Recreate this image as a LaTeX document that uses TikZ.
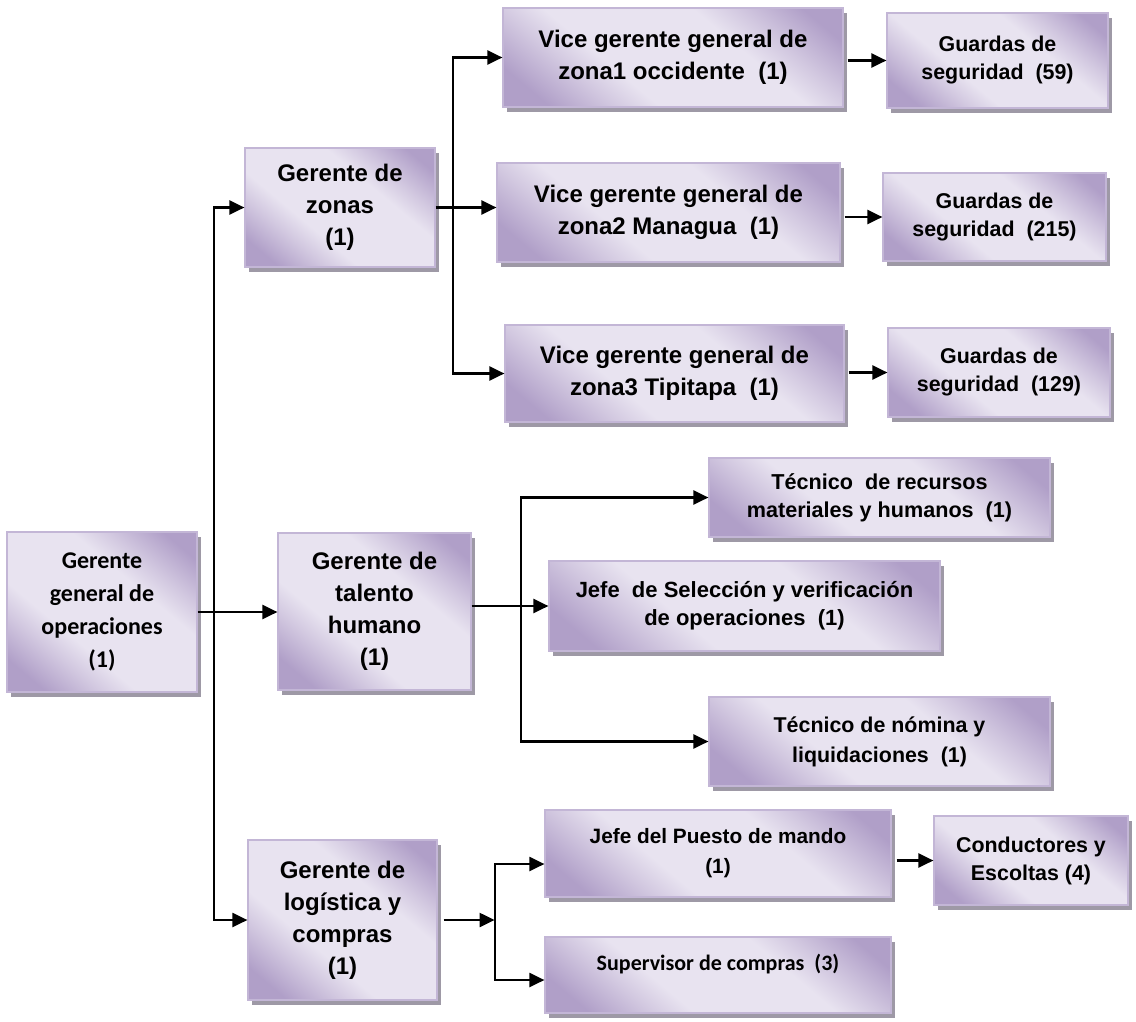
\documentclass[tikz,border=0pt]{standalone}
\usepackage{fontspec}
\setmainfont{Liberation Sans}
\newfontfamily\calfont{Carlito}
\usetikzlibrary{arrows.meta,shadows}
\definecolor{boxdark}{HTML}{B09FC8}
\definecolor{boxmid}{HTML}{D2C8E0}
\definecolor{boxlight}{HTML}{E8E3F0}
\definecolor{boxline}{HTML}{C3B6D6}
\definecolor{shgray}{HTML}{9E99A6}
\pgfdeclareverticalshading{boxshade}{100bp}{color(0bp)=(boxdark); color(22bp)=(boxdark); color(32bp)=(boxmid); color(39bp)=(boxlight); color(62bp)=(boxlight); color(69bp)=(boxmid); color(79bp)=(boxdark); color(100bp)=(boxdark)}
\begin{document}
\begin{tikzpicture}[x=1pt,y=-1pt,
  box/.style={rectangle, draw=boxline, line width=1.2pt, inner sep=0pt, align=center,
    shade, shading=boxshade, shading angle=-40,
    drop shadow={shadow xshift=4pt, shadow yshift=-5pt, fill=shgray, opacity=1},
    text=black, font=\bfseries},
  bw/.style 2 args={minimum width=#1pt, minimum height=#2pt},
  arr/.style={draw=black, line width=2.2pt, -{Triangle[length=15pt,width=14pt]}},
  fA/.style={font=\bfseries\fontsize{24}{32}\selectfont},
  fB/.style={font=\bfseries\fontsize{21.4}{28}\selectfont},
  fC/.style={font=\calfont\bfseries\fontsize{24}{33}\selectfont}
]
\useasboundingbox (0,0) rectangle (1136,1021);

% level 1
\node[box,bw={190}{160},fC] (ggo) at (102,612) {Gerente\\general de\\operaciones\\(1)};

% level 2
\node[box,bw={190}{119},fA] (zonas) at (340,207.5) {Gerente de\\zonas\\(1)};
\node[box,bw={193}{157},fA] (talento) at (374.5,611.5) {Gerente de\\talento\\humano\\(1)};
\node[box,bw={189}{160},fA] (logistica) at (342.5,920) {Gerente de\\logística y\\compras\\(1)};

% zonas
\node[box,bw={340}{99},fA] (vice1) at (673,57.5) {Vice gerente general de\\zona1 occidente~ (1)};
\node[box,bw={343}{99},fA] (vice2) at (668.5,212.5) {Vice gerente general de\\zona2 Managua~ (1)};
\node[box,bw={339}{97},fA] (vice3) at (674.5,373.5) {Vice gerente general de\\zona3 Tipitapa~ (1)};
\node[box,bw={221}{95},fB] (g59) at (997.5,60.5) {Guardas de\\seguridad~ (59)};
\node[box,bw={223}{88},fB] (g215) at (994.5,217) {Guardas de\\seguridad~ (215)};
\node[box,bw={222}{89},fB] (g129) at (999,372.5) {Guardas de\\seguridad~ (129)};

% talento
\node[box,bw={341}{79},font=\bfseries\fontsize{21.6}{28}\selectfont] (tecrec) at (879.5,497.5) {Técnico~ de recursos\\materiales y humanos~ (1)};
\node[box,bw={391}{90},font=\bfseries\fontsize{22}{28}\selectfont] (jefesel) at (744.5,606) {Jefe~ de Selección y verificación\\de operaciones~ (1)};
\node[box,bw={341}{89},font=\bfseries\fontsize{21.4}{30}\selectfont] (tecnom) at (879.5,741.5) {Técnico de nómina y\\liquidaciones~ (1)};

% logistica
\node[box,bw={346}{87},font=\bfseries\fontsize{20.8}{30}\selectfont] (jefepm) at (718,853.5) {Jefe del Puesto de mando\\(1)};
\node[box,bw={346}{76},font=\calfont\bfseries\fontsize{22}{26}\selectfont] (superv) at (718,975) {Supervisor de compras~ (3)\\\mbox{}};
\node[box,bw={194}{89},fB] (conduct) at (1031,860.5) {Conductores y\\Escoltas (4)};

% connectors level 1
\draw[arr] (ggo.east) -- (ggo.east -| talento.west);
\coordinate (t) at ([xshift=16pt]ggo.east);
\draw[arr] (t) |- (zonas.west);
\draw[arr] (t) |- (logistica.west);

% zonas branch
\draw[arr] (zonas.east) -- (zonas.east -| vice2.west);
\coordinate (b1) at ([xshift=17pt]zonas.east);
\draw[arr] (b1) |- (vice1.west);
\draw[arr] (b1) |- (vice3.west);
\draw[arr, shorten <=4pt] (vice1.east |- g59.west) -- (g59.west);
\draw[arr, shorten <=4pt] (vice2.east |- g215.west) -- (g215.west);
\draw[arr, shorten <=4pt] (vice3.east |- g129.west) -- (g129.west);

% talento branch
\draw[arr] (talento.east |- jefesel.west) -- (jefesel.west);
\coordinate (b2) at ([xshift=49pt]talento.east);
\draw[arr] (b2) |- (tecrec.west);
\draw[arr] (b2) |- (tecnom.west);

% logistica branch
\coordinate (b3) at ([xshift=57pt]logistica.east);
\draw[arr, shorten <=6pt] (logistica.east) -- (b3);
\draw[arr] (b3) |- ([yshift=-10.5pt]jefepm.west);
\draw[arr] (b3) |- ([yshift=-5pt]superv.west);
\draw[arr, shorten <=5pt] (jefepm.east |- conduct.west) -- (conduct.west);
\end{tikzpicture}
\end{document}
